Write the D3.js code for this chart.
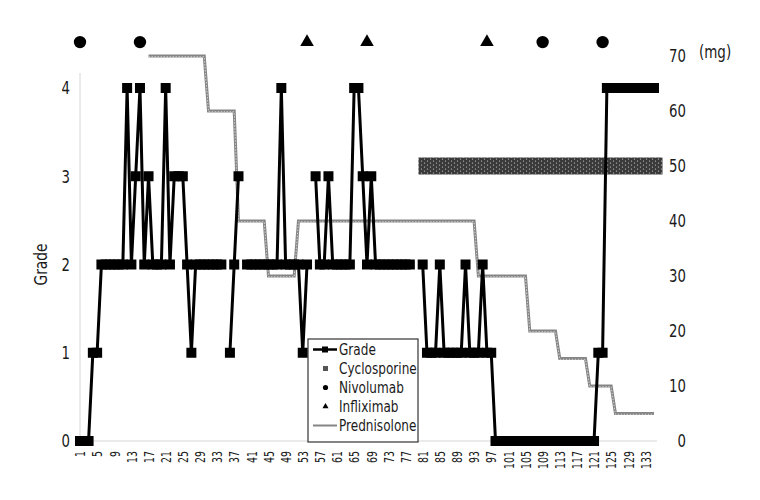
<!DOCTYPE html>
<html>
<head>
<meta charset="utf-8">
<script src="https://cdn.jsdelivr.net/npm/d3@7"></script>
<style>
  body { margin: 0; background: #fff; }
  text { font-family: "DejaVu Sans", sans-serif; font-stretch: condensed; fill: #1a1a1a; }
</style>
</head>
<body>
<div id="chart"></div>
<script>
// day 1..135
let days = d3.range(1, 136);

// grade per day (null = not recorded)
let grade = [
  0, 0, 0, 1, 1, 2, 2, 2, 2, 2,
  2, 4, 2, 3, 4, 2, 3, 2, 2, 2,
  4, 2, 3, 3, 3, 2, 1, 2, 2, 2,
  2, 2, 2, 2, null, 1, 2, 3, null, 2,
  2, 2, 2, 2, 2, 2, 2, 4, 2, 2,
  2, 2, 1, 2, null, 3, 2, 2, 3, 2,
  2, 2, 2, 2, 4, 4, 3, 2, 3, 2,
  2, 2, 2, 2, 2, 2, 2, 2, null, null,
  2, 1, 1, 1, 2, 1, 1, 1, 1, 1,
  2, 1, 1, 1, 2, 1, 1, 0, 0, 0,
  0, 0, 0, 0, 0, 0, 0, 0, 0, 0,
  0, 0, 0, 0, 0, 0, 0, 0, 0, 0,
  0, 1, 1, 4, 4, 4, 4, 4, 4, 4,
  4, 4, 4, 4, 4
];

// prednisolone dose periods (mg): first day, last day, dose
let predFrom = [17, 31, 38, 45, 52, 94, 106, 113, 120, 126];
let predTo   = [30, 37, 44, 51, 93, 105, 112, 119, 125, 135];
let predDose = [70, 60, 40, 30, 40, 30, 20, 15, 10, 5];

// cyclosporine period and level on the mg axis
let cycloFrom = 82, cycloTo = 135, cycloLevel = 50;

// dosing days
let nivolumabDays = [1, 15, 109, 123];
let infliximabDays = [54, 68, 96];
let doseRowGrade = 4.52;

let gradeTicks = [0, 1, 2, 3, 4];
let mgTicks = [0, 10, 20, 30, 40, 50, 60, 70];
let dayTicks = d3.range(1, 136, 4);

let width = 760, height = 500;

let svg = d3.select("#chart").append("svg")
    .attr("width", width)
    .attr("height", height);

let x = d3.scalePoint().domain(days).range([80, 654]);
let y = d3.scaleLinear().domain([0, 4]).range([441, 88]);
let y2 = d3.scaleLinear().domain([0, 70]).range([441, 56]);

// the original font is a narrow one, squeeze text a bit
let squeeze = 0.82;

// pattern for the cyclosporine band
let defs = svg.append("defs");
let pat = defs.append("pattern")
    .attr("id", "dots")
    .attr("patternUnits", "userSpaceOnUse")
    .attr("width", 6).attr("height", 4);
pat.append("rect").attr("width", 6).attr("height", 4).attr("fill", "#3a3a3a");
pat.append("circle").attr("cx", 1.5).attr("cy", 1).attr("r", 0.6).attr("fill", "#d8d8d8");
pat.append("circle").attr("cx", 4.5).attr("cy", 3).attr("r", 0.6).attr("fill", "#d8d8d8");

// axis lines
svg.append("line")
    .attr("x1", x(1)).attr("x2", 657)
    .attr("y1", y(0)).attr("y2", y(0))
    .attr("stroke", "#d6d6d6").attr("stroke-width", 1.2);
svg.append("line")
    .attr("x1", x(1)).attr("x2", x(1))
    .attr("y1", 73).attr("y2", y(0))
    .attr("stroke", "#d6d6d6").attr("stroke-width", 1);

// left ticks
svg.append("g").selectAll("text")
  .data(gradeTicks)
  .enter().append("text")
    .attr("transform", d => "translate(70," + y(d) + ") scale(" + squeeze + ",1)")
    .attr("dy", "0.36em")
    .attr("text-anchor", "end")
    .style("font-size", "18px")
    .text(d => d);

svg.append("text")
    .attr("transform", "translate(47," + y(2) + ") rotate(-90) scale(0.9,1)")
    .attr("text-anchor", "middle")
    .style("font-size", "17px")
    .text("Grade");

// right ticks
svg.append("g").selectAll("text")
  .data(mgTicks)
  .enter().append("text")
    .attr("transform", d => "translate(686," + y2(d) + ") scale(" + squeeze + ",1)")
    .attr("dy", "0.36em")
    .attr("text-anchor", "end")
    .style("font-size", "18px")
    .text(d => d);

svg.append("text")
    .attr("transform", "translate(699,58) scale(0.88,1)")
    .style("font-size", "17px")
    .text("(mg)");

// day ticks
svg.append("g").selectAll("text")
  .data(dayTicks)
  .enter().append("text")
    .attr("transform", d => "translate(" + x(d) + ",451) rotate(-90) scale(0.72,1)")
    .attr("dy", "0.36em")
    .attr("text-anchor", "end")
    .style("font-size", "14.5px")
    .text(d => d);

// cyclosporine band
svg.append("rect")
    .attr("x", x(cycloFrom) - 8.5)
    .attr("y", y2(cycloLevel) - 8.5)
    .attr("width", x(cycloTo) - x(cycloFrom) + 17)
    .attr("height", 17)
    .attr("fill", "url(#dots)");

// prednisolone
let predPts = [];
predFrom.forEach((d, i) => {
  predPts.push([predFrom[i], predDose[i]]);
  predPts.push([predTo[i], predDose[i]]);
});
let predLine = d3.line()
    .x(d => x(d[0]))
    .y(d => y2(d[1]));
svg.append("path")
    .datum(predPts)
    .attr("fill", "none")
    .attr("stroke", "#858585")
    .attr("stroke-width", 3)
    .attr("d", predLine);
svg.append("path")
    .datum(predPts)
    .attr("fill", "none")
    .attr("stroke", "#d4d4d4")
    .attr("stroke-width", 1)
    .attr("stroke-dasharray", "1.5,1.5")
    .attr("transform", "translate(0,0.8)")
    .attr("d", predLine);

// grade line
let gradePts = days.map((d, i) => ({day: d, g: grade[i]}));
let gradeLine = d3.line()
    .defined(d => d.g !== null)
    .x(d => x(d.day))
    .y(d => y(d.g));
svg.append("path")
    .datum(gradePts)
    .attr("fill", "none")
    .attr("stroke", "#000")
    .attr("stroke-width", 3)
    .attr("stroke-linejoin", "round")
    .attr("d", gradeLine);
svg.append("g").selectAll("rect")
  .data(gradePts.filter(d => d.g !== null))
  .enter().append("rect")
    .attr("x", d => x(d.day) - 5)
    .attr("y", d => y(d.g) - 5)
    .attr("width", 10)
    .attr("height", 10)
    .attr("fill", "#000");

// dosing markers
svg.append("g").selectAll("circle")
  .data(nivolumabDays)
  .enter().append("circle")
    .attr("cx", d => x(d))
    .attr("cy", y(doseRowGrade))
    .attr("r", 6.2)
    .attr("fill", "#000");
let tri = d3.symbol().type(d3.symbolTriangle).size(80);
svg.append("g").selectAll("path")
  .data(infliximabDays)
  .enter().append("path")
    .attr("transform", d => "translate(" + x(d) + "," + y(doseRowGrade) + ")")
    .attr("d", tri)
    .attr("fill", "#000");

// legend
let lg = svg.append("g").attr("transform", "translate(308,339)");
lg.append("rect")
    .attr("width", 110).attr("height", 103)
    .attr("fill", "#fff")
    .attr("stroke", "#333").attr("stroke-width", 1.2);
let names = ["Grade", "Cyclosporine", "Nivolumab", "Infliximab", "Prednisolone"];
let rowY = i => 10.5 + i * 19;
lg.selectAll("text.lab")
  .data(names)
  .enter().append("text")
    .attr("class", "lab")
    .attr("transform", (d, i) => "translate(31," + rowY(i) + ") scale(0.84,1)")
    .attr("dy", "0.36em")
    .style("font-size", "16px")
    .text(d => d);
lg.append("line").attr("x1", 5).attr("x2", 29).attr("y1", rowY(0)).attr("y2", rowY(0))
    .attr("stroke", "#000").attr("stroke-width", 2.5);
lg.append("rect").attr("x", 14).attr("y", rowY(0) - 3).attr("width", 6).attr("height", 6).attr("fill", "#000");
lg.append("rect").attr("x", 15).attr("y", rowY(1) - 2.5).attr("width", 5).attr("height", 5).attr("fill", "#555");
lg.append("circle").attr("cx", 17.5).attr("cy", rowY(2)).attr("r", 2.6).attr("fill", "#000");
lg.append("path").attr("transform", "translate(17.5," + rowY(3) + ")")
    .attr("d", d3.symbol().type(d3.symbolTriangle).size(16)).attr("fill", "#000");
lg.append("line").attr("x1", 5).attr("x2", 29).attr("y1", rowY(4)).attr("y2", rowY(4))
    .attr("stroke", "#858585").attr("stroke-width", 2);
</script>
</body>
</html>
